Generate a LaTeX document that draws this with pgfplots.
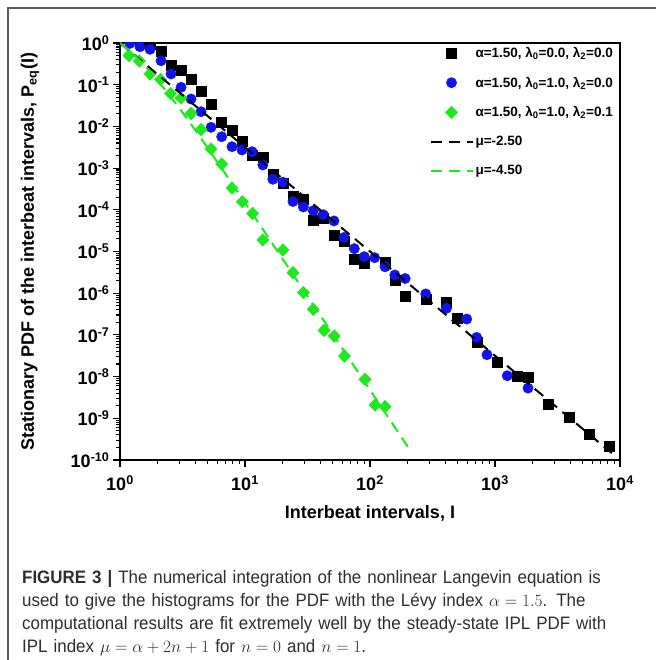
\documentclass[border=0pt]{standalone}
\usepackage{fontspec}
\setmainfont{Liberation Sans}
\newfontfamily\capfont[FakeStretch=0.94]{Liberation Sans}
\usepackage{pgfplots}
\pgfplotsset{compat=1.18}

\definecolor{myblue}{RGB}{18,18,235}
\definecolor{mygreen}{RGB}{30,232,30}
\definecolor{framegray}{RGB}{90,90,90}
\definecolor{captext}{RGB}{45,45,45}

% minor tick lists for the two log axes
\xdef\xminor{2}
\foreach \e in {1,10,100,1000}{\foreach \m in {2,...,9}{%
  \pgfmathtruncatemacro\v{\m*\e}\xdef\xminor{\xminor,\v}}}
\xdef\yminor{2e-10}
\foreach \e in {-10,...,-1}{\foreach \m in {2,...,9}{\xdef\yminor{\yminor,\m e\e}}}

\begin{document}
\begin{tikzpicture}[x=1pt,y=1pt]
\useasboundingbox (0,0) rectangle (655,660);
\draw[framegray, line width=1.5pt] (8,0) -- (8,652) -- (656,652);

\begin{axis}[
  at={(120pt,200pt)}, anchor=south west,
  scale only axis, width=500pt, height=417pt,
  xmode=log, ymode=log,
  xmin=1, xmax=10000, ymin=1e-10, ymax=1,
  axis line style={line width=1.3pt},
  xtick={1,10,100,1000,10000},
  xticklabels={10\textsuperscript{0},10\textsuperscript{1},10\textsuperscript{2},10\textsuperscript{3},10\textsuperscript{4}},
  ytick={1e-10,1e-9,1e-8,1e-7,1e-6,1e-5,1e-4,1e-3,1e-2,1e-1,1},
  yticklabels={10\textsuperscript{-10},10\textsuperscript{-9},10\textsuperscript{-8},10\textsuperscript{-7},10\textsuperscript{-6},10\textsuperscript{-5},10\textsuperscript{-4},10\textsuperscript{-3},10\textsuperscript{-2},10\textsuperscript{-1},10\textsuperscript{0}},
  minor xtick/.expanded={\xminor},
  minor ytick/.expanded={\yminor},
  tick pos=left, tick align=outside,
  major tick length=7pt, minor tick length=4pt,
  every tick/.style={black, line width=1.1pt},
  tick label style={font=\fontsize{18}{20}\selectfont\bfseries},
  xticklabel style={yshift=-5pt},
  xlabel={Interbeat intervals, I},
  ylabel={Stationary PDF of the interbeat intervals, P\textsubscript{eq}(I)},
  every axis x label/.style={at={(axis description cs:0.5,-0.127)}, anchor=center,
    font=\fontsize{18}{20}\selectfont\bfseries},
  every axis y label/.style={at={(axis description cs:-0.18,0.5)}, anchor=center, rotate=90,
    font=\fontsize{18}{20}\selectfont\bfseries},
  clip marker paths=true,
  legend style={draw=none, fill=none, at={(rel axis cs:0.99,0.995)}, anchor=north east,
    font=\fontsize{13.5}{15}\selectfont\bfseries, row sep=14pt, inner sep=0pt,
    nodes={inner sep=2pt}},
  legend cell align=left,
  legend image code/.code={\draw[mark repeat=2,mark phase=2,#1] plot coordinates {(0pt,0pt) (21pt,0pt) (42pt,0pt)};},
]
% alpha=1.50, lambda0=0.0, lambda2=0.0
\addplot[only marks, mark=square*, mark size=5pt, black] coordinates {
(1.45,0.97) (1.74,0.93) (2.13,0.62) (2.56,0.297) (3.08,0.225) (3.70,0.137)
(4.45,0.068) (5.35,0.034) (6.51,0.0124) (7.87,0.0082) (9.46,0.0043)
(11.4,0.00206) (13.9,0.00185) (16.7,7.2e-4) (20.1,4.3e-4) (24.2,2.14e-4)
(29.3,1.79e-4) (35.2,5.7e-5) (42.3,6.25e-5) (51.5,2.49e-5) (62.0,1.72e-5)
(74.9,6.5e-6) (90.0,5.2e-6) (132,5.4e-6) (158,2.07e-6) (191,8.6e-7)
(279,7.3e-7) (409,6.25e-7) (495,2.58e-7) (714,6.65e-8) (1034,2.2e-8)
(1509,1.05e-8) (1837,9.6e-9) (2689,2.12e-9) (3890,1.09e-9) (5652,4.2e-10)
(8241,2.2e-10)
};
% alpha=1.50, lambda0=1.0, lambda2=0.0
\addplot[only marks, mark=*, mark size=5.2pt, myblue] coordinates {
(1.20,0.98) (1.445,0.815) (1.74,0.706) (2.13,0.376) (2.56,0.181) (3.08,0.0867)
(3.70,0.0454) (4.45,0.0225) (5.35,0.0095) (6.51,0.00566) (7.87,0.00326)
(9.46,0.00272) (11.4,0.00247) (13.9,0.00119) (16.7,5.4e-4) (20.1,4.6e-4)
(24.2,1.58e-4) (29.3,1.17e-4) (35.2,9.5e-5) (42.3,7.6e-5) (51.5,5.4e-5)
(62.0,2.17e-5) (74.9,1.17e-5) (90.0,7.5e-6) (109,7.1e-6) (132,4.3e-6)
(158,2.73e-6) (191,2.25e-6) (279,9.6e-7) (409,4.35e-7) (594,2.4e-7)
(714,8.7e-8) (863,3.35e-8) (1254,1.05e-8) (1837,5.3e-9)
};
% alpha=1.50, lambda0=1.0, lambda2=0.1
\addplot[only marks, mark=diamond*, mark size=6.3pt, mark options={xscale=1.3}, mygreen] coordinates {
(1.18,0.50) (1.43,0.37) (1.74,0.18) (2.11,0.133) (2.54,0.0615) (3.08,0.048)
(3.70,0.0204) (4.45,8.4e-3) (5.35,2.87e-3) (6.51,1.25e-3) (7.87,3.33e-4)
(9.52,1.56e-4) (11.5,8.2e-5) (13.9,1.89e-5) (20.1,1.09e-5) (24.2,3.1e-6)
(29.3,1.04e-6) (35.2,4.1e-7) (42.9,1.28e-7) (51.8,9.4e-8) (62.5,3.12e-8)
(91.2,8.6e-9) (110,2.08e-9) (132,1.9e-9)
};
% fits
\addplot[black, line width=2pt, dash pattern=on 11pt off 7pt] coordinates {
(1,1) (8600,1.46e-10)
};
\addplot[mygreen, line width=2pt, dash pattern=on 11pt off 7pt] coordinates {
(1,1.0) (1.2,0.643) (1.5,0.337) (2,0.128) (3,0.0269) (4,8.16e-3) (5,3.13e-3)
(7,7.19e-4) (10,1.48e-4) (15,2.42e-5) (20,6.65e-6) (30,1.08e-6) (50,1.08e-7)
(70,2.38e-8) (100,4.79e-9) (150,7.72e-10) (215,1.53e-10)
};
\addlegendentry{α=1.50, λ\textsubscript{0}=0.0, λ\textsubscript{2}=0.0}
\addlegendentry{α=1.50, λ\textsubscript{0}=1.0, λ\textsubscript{2}=0.0}
\addlegendentry{α=1.50, λ\textsubscript{0}=1.0, λ\textsubscript{2}=0.1}
\addlegendentry{μ=-2.50}
\addlegendentry{μ=-4.50}
\end{axis}

\node[anchor=base west, inner sep=0pt, text width=630pt, align=left,
  font=\capfont\fontsize{18}{23}\selectfont, text=captext] at (22,76)
  {\textbf{FIGURE 3 |} The numerical integration of the nonlinear Langevin equation is\\
   used to give the histograms for the PDF with the Lévy index $\alpha = 1.5$. The\\
   computational results are fit extremely well by the steady-state IPL PDF with\\
   IPL index $\mu = \alpha + 2n + 1$ for $n = 0$ and $n = 1$.};
\end{tikzpicture}
\end{document}
